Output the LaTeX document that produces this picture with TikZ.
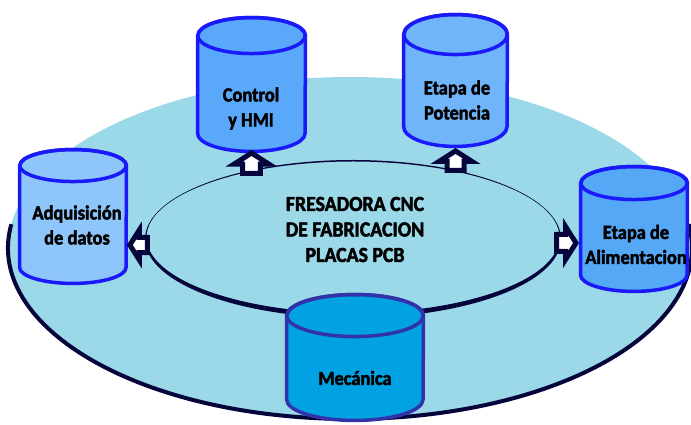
\documentclass[tikz,border=0pt]{standalone}
\usepackage{fontspec}
\setmainfont{Carlito}[FakeStretch=0.92, BoldFeatures={FakeBold=2.2}]
\usetikzlibrary{calc}
\definecolor{disc}{RGB}{155,217,233}
\definecolor{navy}{RGB}{5,5,60}
\definecolor{cylline}{RGB}{25,25,250}
\definecolor{ctrlfill}{RGB}{90,168,250}
\definecolor{potfill}{RGB}{112,180,250}
\definecolor{adqfill}{RGB}{142,197,250}
\definecolor{alifill}{RGB}{85,168,246}
\definecolor{mecfill}{RGB}{0,162,228}
\definecolor{mecline}{RGB}{50,50,170}
\newcommand\drawcyl[5]{%
  \draw[line width=3.5pt, draw=#5, fill=#4, line join=round]
    ($(#1.north west)+(0,-#3)$) -- ($(#1.south west)+(0,#3)$)
    arc[start angle=180, end angle=360, x radius=#2, y radius=#3]
    -- ($(#1.north east)+(0,-#3)$)
    arc[start angle=0, end angle=180, x radius=#2, y radius=#3] -- cycle;
  \draw[line width=3.5pt, draw=#5] ($(#1.north)+(0,-#3)$) ellipse[x radius=#2, y radius=#3];
}
\newcommand\drawhouse[3]{%
  \draw[houseline, shift={(#1)}, rotate=#2, scale=#3]
    (0,-1.5) -- (-16.5,-12) -- (-8.5,-12) -- (-8.5,-21) -- (8.5,-21) -- (8.5,-12) -- (16.5,-12) -- cycle;
}
\tikzset{
  cylbox/.style={draw=none, inner sep=0pt, minimum width=#1},
  lbl/.style={font=\fontsize{20}{25}\selectfont\bfseries, align=center, inner sep=0pt},
  ctext/.style={font=\fontsize{21.5}{25.5}\selectfont\bfseries, align=center, inner sep=0pt},
  houseline/.style={line width=5pt, draw=navy, fill=white, line join=miter}
}
\begin{document}
\begin{tikzpicture}[x=1pt,y=1pt]
\useasboundingbox (0,0) rectangle (691,425);
\clip (0,0) rectangle (691,425);
% disc
\fill[disc] (350,177) ellipse[x radius=342, y radius=171];
\draw[navy, line width=4pt] (350,177) ++(172:342 and 171)
  arc[start angle=172, end angle=368, x radius=342, y radius=171];
% inner ring
\fill[navy, even odd rule] (353,186) ellipse[x radius=208, y radius=79]
  (353,187.75) ellipse[x radius=206.5, y radius=75.75];
\node[ctext] (title) at (355,195.5) {FRESADORA CNC\\DE FABRICACION\\PLACAS PCB};
% cylinders
\node[cylbox=107.5, minimum height=133.5] (ctrl) at (251.5,340.5) {};
\node[cylbox=103.5, minimum height=131.5] (pot) at (455.5,344.5) {};
\node[cylbox=106.5, minimum height=133.5] (adq) at (73,208.5) {};
\node[cylbox=106.5, minimum height=124.5] (ali) at (634,196) {};
\node[cylbox=136.5, minimum height=125.5] (mec) at (355,67.5) {};
\drawcyl{ctrl}{53.75}{18}{ctrlfill}{cylline}
\drawcyl{pot}{51.75}{20}{potfill}{cylline}
\drawcyl{adq}{53.25}{16}{adqfill}{cylline}
\drawcyl{ali}{53.25}{16.5}{alifill}{cylline}
\drawcyl{mec}{68.25}{21}{mecfill}{mecline}
\node[lbl] (ctrl-t) at (251,316.5) {Control\\y HMI};
\node[lbl] (pot-t) at (457,325) {Etapa de\\Potencia};
\node[lbl] (adq-t) at (77,200) {Adquisición\\de datos};
\node[lbl] (ali-t) at (636,180.5) {Etapa de\\Alimentacion};
\node[lbl] (mec-t) at (355,47) {Mecánica};
% arrows
\drawhouse{ctrl.south}{0}{1.05}
\drawhouse{$(pot.south)+(0,-3)$}{0}{1.0}
\drawhouse{$(adq.east)+(2,-28.5)$}{90}{0.9}
\drawhouse{$(ali.west)+(-3,-14)$}{-90}{1.0}
\end{tikzpicture}
\end{document}
